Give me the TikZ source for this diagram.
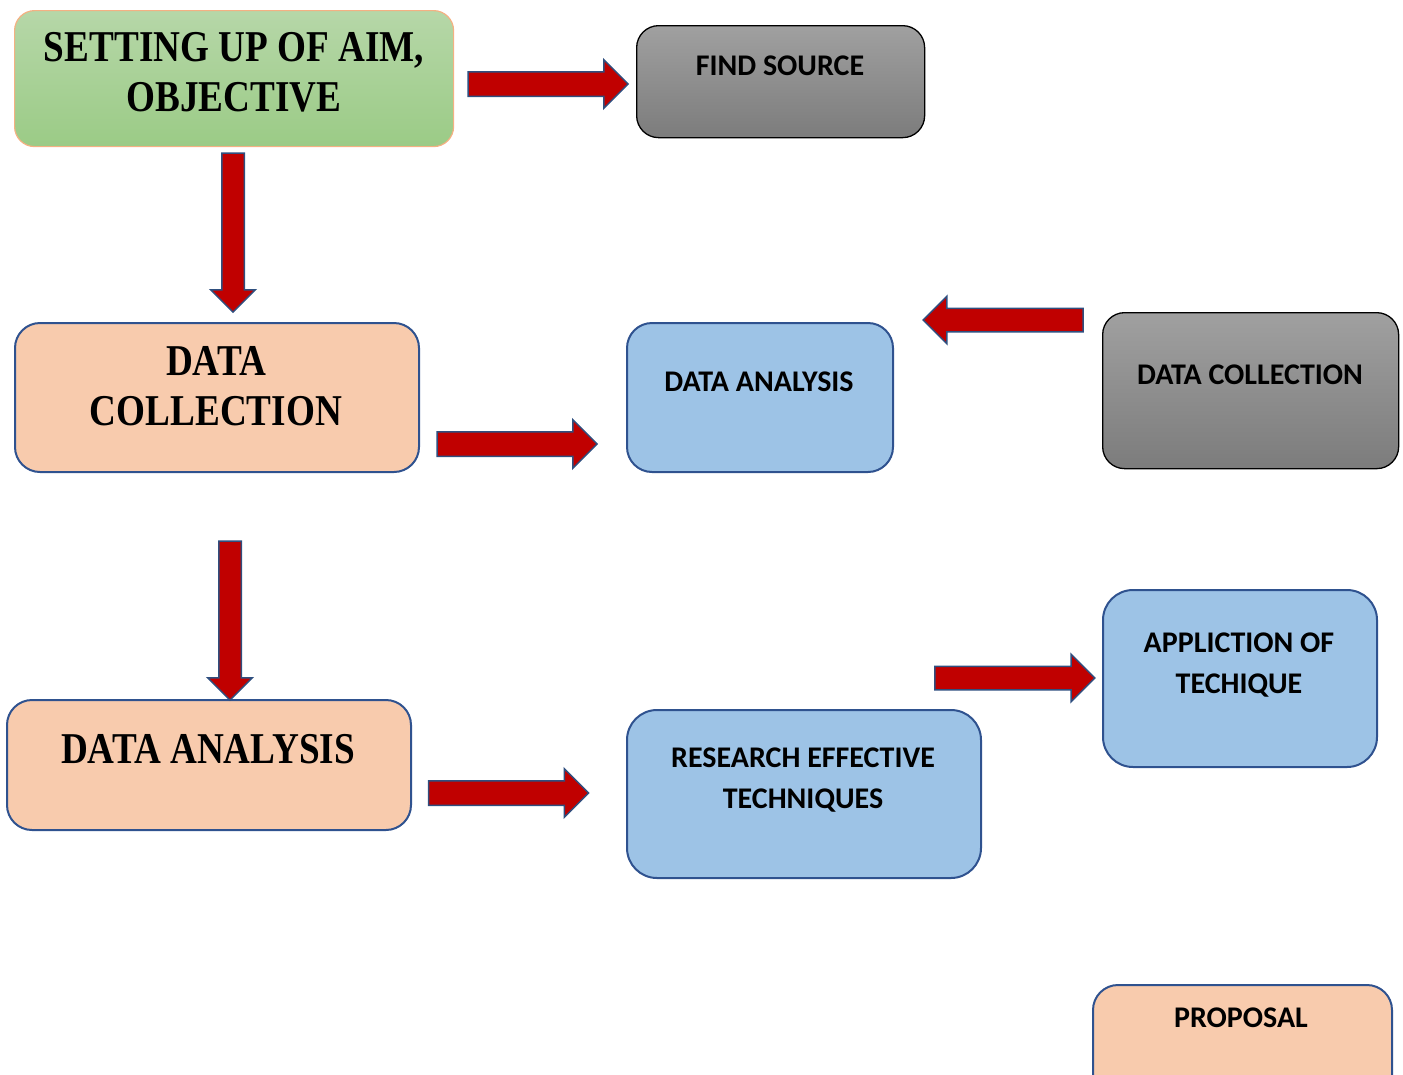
\documentclass[tikz,border=0pt]{standalone}
\usepackage{fontspec}
\usetikzlibrary{shapes.arrows}
\newfontfamily\serifc[FakeStretch=0.845]{Liberation Serif}
\newfontfamily\calib{Carlito}
\definecolor{peach}{HTML}{F8CBAD}
\definecolor{lblue}{HTML}{9DC3E6}
\definecolor{bborder}{HTML}{2F528F}
\definecolor{gtop}{HTML}{B6D7A8}
\definecolor{gbot}{HTML}{9BCB86}
\definecolor{oborder}{HTML}{F4B183}
\definecolor{graytop}{HTML}{A0A0A0}
\definecolor{graybot}{HTML}{7C7C7C}
\definecolor{arrred}{HTML}{C00000}
\definecolor{arrborder}{HTML}{2F4F7F}
\tikzset{
  box/.style={rounded corners=25pt, inner sep=0pt, anchor=north west},
  peachbox/.style={box, fill=peach, draw=bborder, line width=2pt},
  bluebox/.style={box, fill=lblue, draw=bborder, line width=2pt},
  graybox/.style={box, top color=graytop, bottom color=graybot, draw=black, line width=1.3pt, rounded corners=22pt},
  greenbox/.style={box, top color=gtop, bottom color=gbot, draw=oborder, line width=1.2pt, rounded corners=20pt},
  serift/.style={font=\serifc\bfseries\fontsize{44}{50}\selectfont, align=center, inner sep=0pt},
  calt/.style={font=\calib\bfseries\fontsize{30}{41}\selectfont, align=center, inner sep=0pt},
  blockarrow/.style={single arrow, fill=arrred, draw=arrborder, line width=1.5pt,
    inner xsep=0pt, inner ysep=11.5pt, single arrow head extend=12pt,
    single arrow head indent=0pt, minimum height=160pt}
}
\begin{document}
\begin{tikzpicture}[x=1pt,y=-1pt]
\useasboundingbox (0,0) rectangle (1403,1074);
\clip (0,0) rectangle (1403,1074);
% boxes
\node[greenbox, minimum width=439pt, minimum height=136pt] (aim) at (14,10) {};
\node[serift] (aimt) at (234,72) {SETTING UP OF AIM,\\OBJECTIVE};
\node[graybox, minimum width=288pt, minimum height=112pt] (find) at (636,25) {};
\node[calt] (findt) at (780,66) {FIND SOURCE};
\node[peachbox, minimum width=404pt, minimum height=149pt] (coll) at (14,322) {};
\node[serift] (collt) at (216,386) {DATA\\COLLECTION};
\node[bluebox, minimum width=266pt, minimum height=149pt] (ana) at (626,322) {};
\node[calt] (anat) at (759,382) {DATA ANALYSIS};
\node[graybox, minimum width=296pt, minimum height=156pt] (coll2) at (1102,312) {};
\node[calt] (coll2t) at (1250,375) {DATA COLLECTION};
\node[peachbox, minimum width=404pt, minimum height=130pt] (ana2) at (6,699) {};
\node[serift] (ana2t) at (208,749) {DATA ANALYSIS};
\node[bluebox, minimum width=354pt, minimum height=168pt, rounded corners=30pt] (res) at (626,709) {};
\node[calt] (rest) at (803,780.5) {RESEARCH EFFECTIVE\\TECHNIQUES};
\node[bluebox, minimum width=274pt, minimum height=177pt, rounded corners=30pt] (app) at (1102,589) {};
\node[calt] (appt) at (1239,665) {APPLICTION OF\\TECHIQUE};
\node[peachbox, minimum width=299pt, minimum height=120pt] (prop) at (1092,984) {};
\node[calt] (propt) at (1241,1018) {PROPOSAL};
% block arrows
\node[blockarrow] (a1) at (542,84) {};
\node[blockarrow, rotate=-90, inner ysep=10.5pt, single arrow head extend=11pt, minimum height=159pt] (a2) at (233,227) {};
\node[blockarrow] (a3) at (511,444) {};
\node[blockarrow, rotate=180, inner ysep=11pt] (a4) at (1009,320) {};
\node[blockarrow, rotate=-90, inner ysep=10.5pt, single arrow head extend=11pt, minimum height=159pt] (a5) at (230,615) {};
\node[blockarrow] (a6) at (502.5,793) {};
\node[blockarrow, inner ysep=11pt] (a7) at (1009,678) {};
\end{tikzpicture}
\end{document}
